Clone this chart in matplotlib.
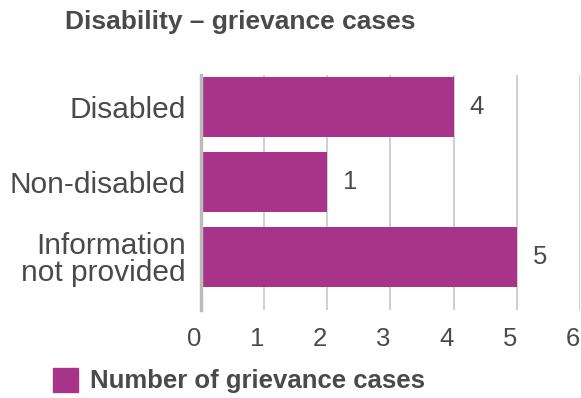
import matplotlib
matplotlib.use("Agg")
import matplotlib.pyplot as plt
from matplotlib.patches import Rectangle
import matplotlib.transforms as mtransforms

categories = ["Disabled", "Non-disabled", "Information\nnot provided"]
bar_values = [4, 2, 5]
value_labels = ["4", "1", "5"]
x_ticks = [0, 1, 2, 3, 4, 5, 6]
title = "Disability – grievance cases"
legend_label = "Number of grievance cases"

bar_color = "#a8348a"
text_color = "#4a4a4a"
font = "Liberation Sans"

fig = plt.figure(figsize=(5.81, 3.98), dpi=100)
ax = fig.add_axes([0.346, 0.221, 0.652, 0.590])

ypos = list(range(len(categories)))
ax.barh(ypos, bar_values, height=0.8, color=bar_color, zorder=3)
for y, v, lab in zip(ypos, bar_values, value_labels):
    ax.text(v + 0.25, y, lab, va="center", ha="left", fontsize=18.5,
            color=text_color, family=font)

ax.set_xlim(0, 6)
ax.set_ylim(2.71, -0.43)
ax.set_xticks(x_ticks)
ax.set_xticklabels([str(t) for t in x_ticks], fontsize=18.5, color=text_color, family=font)
ax.set_yticks(ypos)
ax.set_yticklabels(categories, fontsize=21.5, color=text_color, family=font, linespacing=0.95)
ax.tick_params(axis="x", length=0, pad=12)
ax.tick_params(axis="y", length=0, pad=11)
offset = mtransforms.ScaledTranslation(-7 / 100, 0, fig.dpi_scale_trans)
for lbl in ax.get_xticklabels():
    lbl.set_transform(lbl.get_transform() + offset)
ax.xaxis.grid(True, color="#cccccc", linewidth=1.3, zorder=0)
for s in ["top", "right", "bottom"]:
    ax.spines[s].set_visible(False)
ax.spines["left"].set_color("#bbbbbb")
ax.spines["left"].set_linewidth(2.5)
ax.spines["left"].set_zorder(4)

fig.text(65 / 581, 1 - 22 / 398, title, fontsize=19, fontweight="bold",
         color=text_color, family=font, va="center", ha="left")

fig.patches.append(Rectangle((53 / 581, 1 - 392 / 398), 25 / 581, 24 / 398,
                             transform=fig.transFigure, color=bar_color))
fig.text(90 / 581, 1 - 381 / 398, legend_label, fontsize=18.5, fontweight="bold",
         color=text_color, family=font, va="center", ha="left")

fig.savefig("out.png", dpi=100)
